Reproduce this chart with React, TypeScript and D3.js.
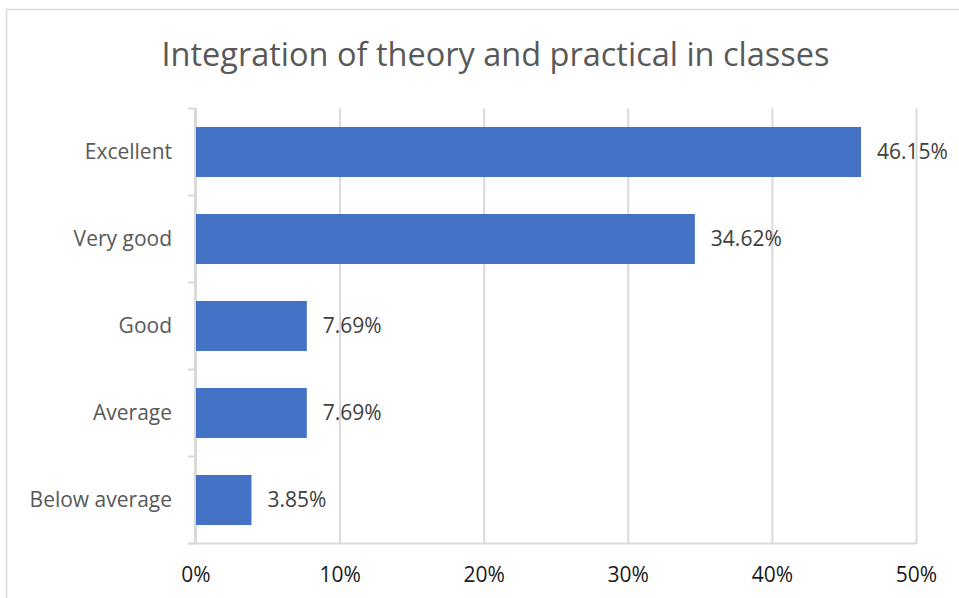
import React from "react";
import * as d3 from "d3";

const categories = ["Excellent", "Very good", "Good", "Average", "Below average"];
const values = [46.15, 34.62, 7.69, 7.69, 3.85];
const xTicks = [0, 10, 20, 30, 40, 50];
const title = "Integration of theory and practical in classes";

const W = 959;
const H = 598;
const plot = { left: 196, right: 916.5, top: 108.5, bottom: 543.5 };
const FONT = "'Open Sans', 'Noto Sans', sans-serif";

export default function App() {
  const x = d3.scaleLinear().domain([0, 50]).range([plot.left, plot.right]);
  const y = d3
    .scaleBand<string>()
    .domain(categories)
    .range([plot.top, plot.bottom])
    .paddingInner(0.425)
    .paddingOuter(0.2125);
  const step = y.step();
  const bounds = d3.range(categories.length + 1).map((i) => plot.top + i * step);

  return (
    <div style={{ position: "absolute", left: 0, top: 0 }}>
      <svg width={W} height={H} style={{ display: "block", background: "#fff" }}>
        <rect x={6.5} y={9.5} width={W + 20} height={H + 20} fill="#fff" stroke="#d9d9d9" strokeWidth={1.5} />
        <text
          x={(162 + 829) / 2}
          y={66}
          textAnchor="middle"
          fontFamily={FONT}
          fontSize={32.5}
          fill="#595959"
        >
          {title}
        </text>
        {xTicks.map((t) => (
          <line key={"g" + t} x1={x(t)} x2={x(t)} y1={plot.top} y2={plot.bottom} stroke="#d9d9d9" strokeWidth={2} />
        ))}
        {bounds.map((b, i) => (
          <line key={"t" + i} x1={188} x2={plot.left} y1={b} y2={b} stroke="#d9d9d9" strokeWidth={2} />
        ))}
        <line x1={plot.left - 1} x2={plot.left - 1} y1={plot.top} y2={plot.bottom} stroke="#d9d9d9" strokeWidth={2} />
        <line x1={188} x2={plot.right} y1={plot.bottom} y2={plot.bottom} stroke="#d9d9d9" strokeWidth={2} />
        {categories.map((c, i) => (
          <g key={c}>
            <rect x={x(0)} y={y(c)!} width={x(values[i]) - x(0)} height={y.bandwidth()} fill="#4472C4" />
            <text
              x={x(values[i]) + 16}
              y={y(c)! + y.bandwidth() / 2}
              dy="0.35em"
              fontFamily={FONT}
              fontSize={21}
              fill="#404040"
            >
              {values[i].toFixed(2)}%
            </text>
            <text
              x={172}
              y={y(c)! + y.bandwidth() / 2}
              dy="0.35em"
              textAnchor="end"
              fontFamily={FONT}
              fontSize={21}
              fill="#595959"
            >
              {c}
            </text>
          </g>
        ))}
        {xTicks.map((t) => (
          <text key={"l" + t} x={x(t)} y={582} textAnchor="middle" fontFamily={FONT} fontSize={21} fill="#1a1a1a">
            {t}%
          </text>
        ))}
      </svg>
    </div>
  );
}
